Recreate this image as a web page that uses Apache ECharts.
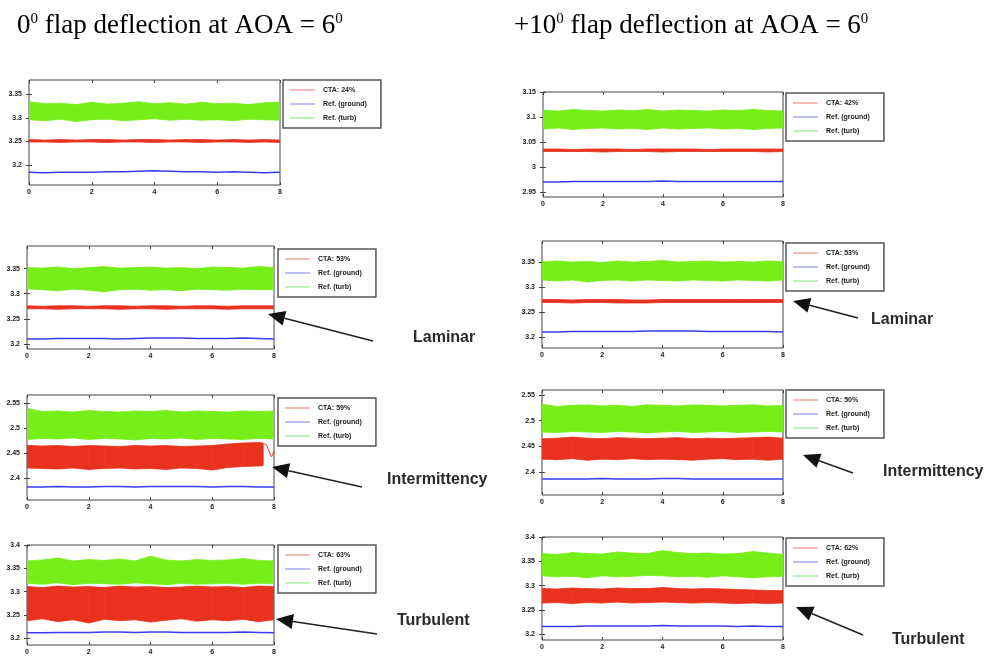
<!DOCTYPE html>
<html>
<head>
<meta charset="utf-8">
<script src="https://cdn.jsdelivr.net/npm/echarts@6/dist/echarts.min.js"></script>
<style>html,body{margin:0;padding:0;background:#fff}#c{width:994px;height:656px}</style>
</head>
<body>
<div id="c"></div>
<script>
// ---------------- DATA ----------------
const xs = [0,0.5,1,1.5,2,2.5,3,3.5,4,4.5,5,5.5,6,6.5,7,7.5,8];
const xTicks = [0,2,4,6,8];
const groundName = 'Ref. (ground)';
const turbName = 'Ref. (turb)';

// Panel 1 : 0 deg flap, CTA 24%
const p1Label = 'CTA: 24%';
const p1YTicks = [3.2,3.25,3.3,3.35];
const p1TurbHi = [3.334,3.330,3.331,3.328,3.333,3.329,3.331,3.334,3.330,3.332,3.329,3.333,3.330,3.331,3.328,3.332,3.333];
const p1TurbLo = [3.296,3.294,3.297,3.292,3.296,3.297,3.294,3.296,3.298,3.295,3.297,3.295,3.296,3.294,3.297,3.296,3.295];
const p1CtaHi  = [3.254,3.253,3.254,3.253,3.254,3.254,3.253,3.254,3.254,3.253,3.254,3.254,3.253,3.254,3.253,3.254,3.253];
const p1CtaLo  = [3.249,3.249,3.248,3.249,3.249,3.248,3.249,3.249,3.248,3.249,3.249,3.248,3.249,3.249,3.248,3.249,3.248];
const p1Ground = [3.185,3.184,3.185,3.185,3.185,3.186,3.186,3.187,3.188,3.187,3.186,3.186,3.185,3.186,3.185,3.184,3.185];

// Panel 2 : 0 deg flap, CTA 53% (laminar)
const p2Label = 'CTA: 53%';
const p2YTicks = [3.2,3.25,3.3,3.35];
const p2TurbHi = [3.352,3.351,3.353,3.350,3.352,3.354,3.351,3.352,3.353,3.351,3.352,3.350,3.353,3.352,3.351,3.354,3.352];
const p2TurbLo = [3.310,3.308,3.306,3.309,3.307,3.304,3.308,3.309,3.307,3.308,3.306,3.309,3.308,3.307,3.309,3.308,3.308];
const p2CtaHi  = [3.276,3.275,3.276,3.276,3.275,3.276,3.276,3.275,3.276,3.276,3.275,3.276,3.276,3.275,3.276,3.276,3.276];
const p2CtaLo  = [3.270,3.270,3.269,3.270,3.270,3.270,3.269,3.270,3.270,3.269,3.270,3.270,3.270,3.269,3.270,3.270,3.270];
const p2Ground = [3.210,3.210,3.211,3.211,3.211,3.211,3.210,3.211,3.212,3.212,3.212,3.211,3.211,3.211,3.212,3.211,3.210];

// Panel 3 : 0 deg flap, CTA 59% (intermittency)
const p3Label = 'CTA: 59%';
const p3YTicks = [2.4,2.45,2.5,2.55];
const p3TurbHi = [2.540,2.534,2.535,2.533,2.536,2.534,2.533,2.535,2.534,2.536,2.533,2.535,2.534,2.533,2.535,2.534,2.535];
const p3TurbLo = [2.478,2.480,2.479,2.481,2.478,2.480,2.479,2.477,2.480,2.479,2.481,2.478,2.480,2.479,2.478,2.480,2.479];
const p3CtaX   = [0,0.5,1,1.5,2,2.5,3,3.5,4,4.5,5,5.5,6,6.5,7,7.5,7.65];
const p3CtaHi  = [2.466,2.465,2.466,2.464,2.466,2.465,2.464,2.466,2.465,2.466,2.464,2.465,2.466,2.469,2.471,2.472,2.471];
const p3CtaLo  = [2.421,2.420,2.419,2.421,2.418,2.420,2.421,2.419,2.420,2.418,2.421,2.420,2.417,2.422,2.424,2.425,2.426];
const p3CtaTailX = [7.65,7.75,7.92,8];
const p3CtaTailY = [2.470,2.468,2.443,2.455];
const p3Ground = [2.383,2.383,2.384,2.383,2.383,2.384,2.384,2.383,2.384,2.384,2.384,2.384,2.383,2.384,2.384,2.383,2.383];

// Panel 4 : 0 deg flap, CTA 63% (turbulent)
const p4Label = 'CTA: 63%';
const p4YTicks = [3.2,3.25,3.3,3.35,3.4];
const p4TurbHi = [3.366,3.368,3.372,3.366,3.369,3.367,3.370,3.366,3.376,3.368,3.366,3.369,3.367,3.368,3.371,3.367,3.366];
const p4TurbLo = [3.318,3.316,3.319,3.315,3.318,3.317,3.316,3.319,3.317,3.315,3.318,3.316,3.317,3.318,3.316,3.318,3.317];
const p4CtaHi  = [3.311,3.309,3.312,3.310,3.311,3.309,3.312,3.310,3.311,3.309,3.310,3.312,3.310,3.311,3.309,3.312,3.311];
const p4CtaLo  = [3.238,3.242,3.236,3.240,3.233,3.241,3.238,3.240,3.235,3.239,3.242,3.237,3.240,3.238,3.241,3.236,3.240];
const p4Ground = [3.212,3.212,3.213,3.213,3.213,3.214,3.214,3.213,3.214,3.214,3.213,3.213,3.213,3.213,3.214,3.213,3.212];

// Panel 5 : +10 deg flap, CTA 42%
const p5Label = 'CTA: 42%';
const p5YTicks = [2.95,3,3.05,3.1,3.15];
const p5TurbHi = [3.114,3.112,3.115,3.113,3.112,3.114,3.113,3.115,3.112,3.114,3.113,3.112,3.114,3.113,3.115,3.113,3.112];
const p5TurbLo = [3.076,3.078,3.075,3.077,3.078,3.076,3.077,3.075,3.078,3.076,3.077,3.078,3.076,3.077,3.075,3.077,3.078];
const p5CtaHi  = [3.036,3.036,3.035,3.036,3.036,3.036,3.035,3.036,3.036,3.036,3.036,3.035,3.036,3.036,3.036,3.036,3.036];
const p5CtaLo  = [3.031,3.031,3.031,3.031,3.030,3.031,3.031,3.031,3.030,3.031,3.031,3.031,3.031,3.031,3.031,3.030,3.031];
const p5Ground = [2.970,2.970,2.971,2.971,2.971,2.971,2.971,2.971,2.972,2.971,2.971,2.971,2.971,2.971,2.971,2.971,2.971];

// Panel 6 : +10 deg flap, CTA 53% (laminar)
const p6Label = 'CTA: 53%';
const p6YTicks = [3.2,3.25,3.3,3.35];
const p6TurbHi = [3.350,3.352,3.350,3.351,3.349,3.352,3.350,3.351,3.353,3.350,3.351,3.352,3.350,3.351,3.350,3.352,3.351];
const p6TurbLo = [3.314,3.312,3.314,3.310,3.313,3.314,3.312,3.314,3.313,3.312,3.314,3.313,3.312,3.314,3.313,3.312,3.314];
const p6CtaHi  = [3.275,3.275,3.274,3.275,3.275,3.275,3.274,3.274,3.275,3.275,3.275,3.275,3.275,3.275,3.275,3.275,3.275];
const p6CtaLo  = [3.269,3.269,3.268,3.269,3.269,3.268,3.268,3.268,3.269,3.269,3.269,3.269,3.269,3.269,3.269,3.269,3.269];
const p6Ground = [3.210,3.210,3.211,3.211,3.211,3.211,3.211,3.212,3.212,3.212,3.212,3.211,3.211,3.211,3.211,3.211,3.210];

// Panel 7 : +10 deg flap, CTA 50% (intermittency)
const p7Label = 'CTA: 50%';
const p7YTicks = [2.4,2.45,2.5,2.55];
const p7TurbHi = [2.532,2.528,2.530,2.531,2.529,2.530,2.528,2.531,2.530,2.529,2.531,2.530,2.529,2.530,2.531,2.529,2.530];
const p7TurbLo = [2.478,2.477,2.479,2.478,2.477,2.479,2.478,2.476,2.478,2.479,2.477,2.478,2.479,2.477,2.478,2.479,2.478];
const p7CtaHi  = [2.465,2.466,2.468,2.466,2.465,2.467,2.466,2.465,2.466,2.467,2.465,2.466,2.465,2.466,2.467,2.468,2.466];
const p7CtaLo  = [2.425,2.424,2.426,2.423,2.425,2.424,2.426,2.424,2.425,2.424,2.423,2.425,2.426,2.424,2.425,2.423,2.425];
const p7Ground = [2.386,2.386,2.386,2.386,2.387,2.386,2.386,2.386,2.387,2.387,2.386,2.386,2.386,2.386,2.386,2.386,2.386];

// Panel 8 : +10 deg flap, CTA 62% (turbulent)
const p8Label = 'CTA: 62%';
const p8YTicks = [3.2,3.25,3.3,3.35,3.4];
const p8TurbHi = [3.366,3.364,3.368,3.366,3.365,3.369,3.367,3.366,3.372,3.368,3.366,3.367,3.365,3.366,3.370,3.367,3.364];
const p8TurbLo = [3.320,3.318,3.319,3.316,3.320,3.318,3.319,3.321,3.320,3.318,3.319,3.317,3.320,3.318,3.316,3.318,3.319];
const p8CtaHi  = [3.294,3.293,3.295,3.294,3.293,3.295,3.294,3.294,3.296,3.294,3.293,3.294,3.293,3.292,3.291,3.290,3.290];
const p8CtaLo  = [3.264,3.265,3.263,3.265,3.264,3.266,3.264,3.265,3.266,3.265,3.264,3.265,3.264,3.263,3.264,3.263,3.264];
const p8Ground = [3.216,3.216,3.216,3.217,3.217,3.217,3.217,3.217,3.218,3.217,3.217,3.217,3.217,3.216,3.217,3.216,3.216];

const leftTitle = ['0','0',' flap deflection at AOA = 6','0'];
const rightTitle = ['+10','0',' flap deflection at AOA = 6','0'];
const stateLabels = ['Laminar','Intermittency','Turbulent'];

// ---------------- LAYOUT ----------------
const panels = [
  {label:p1Label, yTicks:p1YTicks, turbHi:p1TurbHi, turbLo:p1TurbLo, ctaX:xs, ctaHi:p1CtaHi, ctaLo:p1CtaLo, ground:p1Ground,
   g:{left:29,top:80,width:251,height:105}, ymin:3.158, ymax:3.38, lg:{left:283,top:80}},
  {label:p2Label, yTicks:p2YTicks, turbHi:p2TurbHi, turbLo:p2TurbLo, ctaX:xs, ctaHi:p2CtaHi, ctaLo:p2CtaLo, ground:p2Ground,
   g:{left:27,top:246,width:247,height:103}, ymin:3.19, ymax:3.395, lg:{left:278,top:249}},
  {label:p3Label, yTicks:p3YTicks, turbHi:p3TurbHi, turbLo:p3TurbLo, ctaX:p3CtaX, ctaHi:p3CtaHi, ctaLo:p3CtaLo, ground:p3Ground,
   tailX:p3CtaTailX, tailY:p3CtaTailY,
   g:{left:27,top:395,width:247,height:105}, ymin:2.357, ymax:2.567, lg:{left:278,top:398}},
  {label:p4Label, yTicks:p4YTicks, turbHi:p4TurbHi, turbLo:p4TurbLo, ctaX:xs, ctaHi:p4CtaHi, ctaLo:p4CtaLo, ground:p4Ground,
   g:{left:27,top:545,width:247,height:102}, ymin:3.186, ymax:3.4, lg:{left:278,top:545}},
  {label:p5Label, yTicks:p5YTicks, turbHi:p5TurbHi, turbLo:p5TurbLo, ctaX:xs, ctaHi:p5CtaHi, ctaLo:p5CtaLo, ground:p5Ground,
   g:{left:543,top:92,width:240,height:105}, ymin:2.94, ymax:3.15, lg:{left:786,top:93}},
  {label:p6Label, yTicks:p6YTicks, turbHi:p6TurbHi, turbLo:p6TurbLo, ctaX:xs, ctaHi:p6CtaHi, ctaLo:p6CtaLo, ground:p6Ground,
   g:{left:542,top:241,width:241,height:107}, ymin:3.178, ymax:3.392, lg:{left:786,top:243}},
  {label:p7Label, yTicks:p7YTicks, turbHi:p7TurbHi, turbLo:p7TurbLo, ctaX:xs, ctaHi:p7CtaHi, ctaLo:p7CtaLo, ground:p7Ground,
   g:{left:542,top:390,width:241,height:105}, ymin:2.355, ymax:2.56, lg:{left:786,top:390}},
  {label:p8Label, yTicks:p8YTicks, turbHi:p8TurbHi, turbLo:p8TurbLo, ctaX:xs, ctaHi:p8CtaHi, ctaLo:p8CtaLo, ground:p8Ground,
   g:{left:542,top:537,width:241,height:103}, ymin:3.188, ymax:3.4, lg:{left:786,top:538}}
];

const RED = '#e8321e', BLUE = '#3a3af0', GREEN = '#76ee18';
const labelFont = {fontSize:7, fontWeight:'bold', color:'#222', fontFamily:'Liberation Sans, Arial, sans-serif'};

const option = {animation:false, backgroundColor:'#ffffff', grid:[], xAxis:[], yAxis:[], series:[], legend:[], graphic:[]};

// band between lower and upper envelope: one quad per consecutive pair of samples
function bandSeries(gi, x, lo, hi, color, name) {
  const data = [];
  for (let i = 0; i < x.length - 1; i++) data.push([x[i], lo[i], hi[i], x[i+1], lo[i+1], hi[i+1]]);
  return {
    type:'custom', name, xAxisIndex:gi*2, yAxisIndex:gi*2, silent:true, clip:true,
    itemStyle:{color},
    encode:{x:[0,3], y:[1,2,4,5]},
    renderItem:(params, api) => {
      const a = api.coord([api.value(0), api.value(1)]);
      const b = api.coord([api.value(0), api.value(2)]);
      const c = api.coord([api.value(3), api.value(5)]);
      const d = api.coord([api.value(3), api.value(4)]);
      return {type:'polygon', shape:{points:[a,b,c,d]},
        style:{fill:color, stroke:color, lineWidth:0.8}};
    },
    data
  };
}

panels.forEach((p, gi) => {
  option.grid.push(Object.assign({show:true, borderColor:'#444', borderWidth:1, backgroundColor:'#fff'}, p.g));
  const xBase = {gridIndex:gi, type:'value', min:0, max:8, interval:2, splitLine:{show:false},
    axisLine:{show:false}, axisTick:{inside:true, length:3, lineStyle:{color:'#444'}}};
  option.xAxis.push(Object.assign({}, xBase, {position:'bottom', axisLabel:Object.assign({margin:4}, labelFont)}));
  option.xAxis.push(Object.assign({}, xBase, {position:'top', axisLabel:{show:false}}));
  const yBase = {gridIndex:gi, type:'value', min:p.ymin, max:p.ymax, splitLine:{show:false}, axisLine:{show:false},
    axisTick:{inside:true, length:3, customValues:p.yTicks, lineStyle:{color:'#444'}}};
  option.yAxis.push(Object.assign({}, yBase, {position:'left', axisLabel:Object.assign({margin:7, customValues:p.yTicks}, labelFont)}));
  option.yAxis.push(Object.assign({}, yBase, {position:'right', axisLabel:{show:false}}));

  // CTA (plotted first), ground, turb (on top)
  option.series.push(bandSeries(gi, p.ctaX, p.ctaLo, p.ctaHi, RED, p.label));
  if (p.tailX) {
    option.series.push({type:'line', name:p.label, xAxisIndex:gi*2, yAxisIndex:gi*2, symbol:'none', silent:true,
      lineStyle:{color:RED, width:0.9}, itemStyle:{color:RED}, data:p.tailX.map((v,i)=>[v, p.tailY[i]])});
  }
  option.series.push({type:'line', name:groundName, xAxisIndex:gi*2, yAxisIndex:gi*2, symbol:'none', silent:true,
    lineStyle:{color:BLUE, width:1.5}, itemStyle:{color:BLUE}, data:xs.map((v,i)=>[v, p.ground[i]])});
  option.series.push(bandSeries(gi, xs, p.turbLo, p.turbHi, GREEN, turbName));

  option.legend.push({
    left:p.lg.left, top:p.lg.top, orient:'vertical', selectedMode:false,
    icon:'rect', itemWidth:25, itemHeight:1.5, itemGap:6,
    padding:[6,14,6,7], borderColor:'#555', borderWidth:1.5, backgroundColor:'#fff',
    textStyle:Object.assign({lineHeight:8, padding:[0,0,0,3]}, labelFont),
    data:[
      {name:p.label, icon:'rect', itemStyle:{color:'#f3a3a0'}},
      {name:groundName, icon:'rect', itemStyle:{color:'#a8a8f5'}},
      {name:turbName, icon:'rect', itemStyle:{color:'#a6f0a0'}}
    ]
  });
});

// ---------------- ANNOTATIONS ----------------
function titleEl(x, parts) {
  return {type:'text', left:x, top:12, style:{
    text:'{a|' + parts[0] + '}{s|' + parts[1] + '}{a|' + parts[2] + '}{s|' + parts[3] + '}',
    rich:{a:{fontFamily:'Liberation Serif, serif', fontSize:27, color:'#222', verticalAlign:'bottom'},
          s:{fontFamily:'Liberation Serif, serif', fontSize:15, color:'#222', verticalAlign:'top'}}}};
}
option.graphic.push(titleEl(17, leftTitle), titleEl(514, rightTitle));

function arrowEls(tail, tip) {
  const dx = tip[0]-tail[0], dy = tip[1]-tail[1], L = Math.hypot(dx, dy);
  const ux = dx/L, uy = dy/L, hl = 17, hw = 7.5;
  const bx = tip[0]-ux*hl, by = tip[1]-uy*hl;
  return [
    {type:'line', shape:{x1:tail[0], y1:tail[1], x2:bx, y2:by}, style:{stroke:'#222', lineWidth:1.6}},
    {type:'polygon', shape:{points:[tip, [bx-uy*hw, by+ux*hw], [bx+uy*hw, by-ux*hw]]}, style:{fill:'#111'}}
  ];
}
const arrows = [
  [[373,341],[268,314]], [[362,487],[272,467]], [[377,634],[276,619]],
  [[858,318],[793,301]], [[853,473],[803,455]], [[863,635],[796,607]]
];
arrows.forEach(a => option.graphic.push(...arrowEls(a[0], a[1])));

const stateText = [[413,338,0],[387,480,1],[397,621,2],[871,320,0],[883,472,1],[892,640,2]];
stateText.forEach(t => option.graphic.push({type:'text', x:t[0], y:t[1], style:{
  text:stateLabels[t[2]], fontFamily:'Liberation Sans, Arial, sans-serif', fontWeight:'bold', fontSize:16,
  fill:'#2a2a2a', verticalAlign:'middle'}}));

const chart = echarts.init(document.getElementById('c'), null, {renderer:'canvas'});
chart.setOption(option);
</script>
</body>
</html>
